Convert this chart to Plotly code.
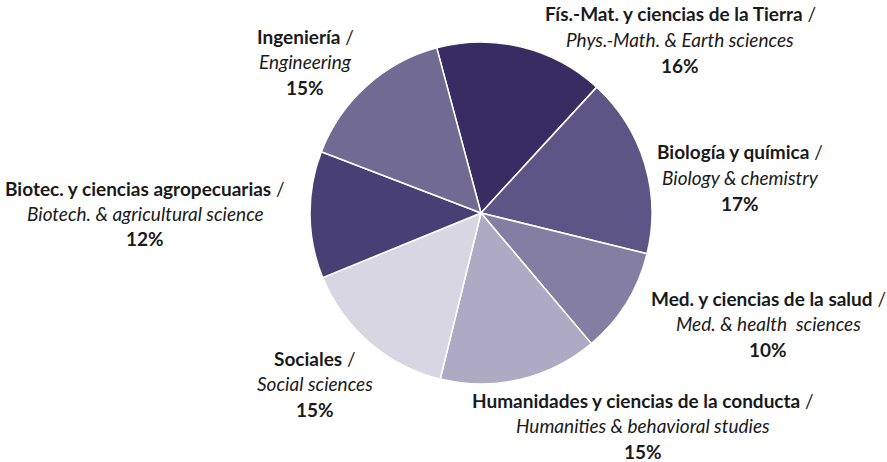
import plotly.graph_objects as go

# ===============================
# DATA
# ===============================
labels_es = [
    "Fís.-Mat. y ciencias de la Tierra",
    "Biología y química",
    "Med. y ciencias de la salud",
    "Humanidades y ciencias de la conducta",
    "Sociales",
    "Biotec. y ciencias agropecuarias",
    "Ingeniería",
]
labels_en = [
    "Phys.-Math. & Earth sciences",
    "Biology & chemistry",
    "Med. & health  sciences",
    "Humanities & behavioral studies",
    "Social sciences",
    "Biotech. & agricultural science",
    "Engineering",
]
shares = [16, 17, 10, 15, 15, 12, 15]

COLOURS = ["#372d63", "#5e5587", "#847ea3", "#afaac4", "#d9d6e3", "#483f74", "#716a93"]

# label anchor (pixel centre of the first line) for each slice
LABEL_POS = [
    (680, 14),
    (740, 152),
    (768, 298),
    (643, 400),
    (315, 358),
    (145, 188),
    (305, 36),
]

W, H = 887, 462
FONT = "Lato"
LINE_GAP = 25.5


def px_x(px):
    return px / W


def px_y(py):
    return 1 - py / H


fig = go.Figure(go.Pie(
    labels=labels_es,
    values=shares,
    sort=False,
    direction="clockwise",
    rotation=-15,
    marker=dict(colors=COLOURS, line=dict(color="white", width=1.5)),
    textinfo="none",
    hoverinfo="label+percent",
    showlegend=False,
    domain=dict(x=[px_x(310), px_x(652)], y=[px_y(384), px_y(42)]),
))

annotations = []
for es, en, v, (px, py) in zip(labels_es, labels_en, shares, LABEL_POS):
    lines = [
        f"<b>{es}</b> /",
        f"<i>{en}</i>",
        f"<b>{v}%</b>",
    ]
    for i, t in enumerate(lines):
        annotations.append(dict(
            x=px_x(px), y=px_y(py + i * LINE_GAP),
            xref="paper", yref="paper",
            xanchor="center", yanchor="middle",
            text=t, showarrow=False, borderpad=0,
            font=dict(family=FONT, size=19, color="#1a1a1a"),
        ))

fig.update_layout(
    width=W, height=H,
    margin=dict(l=0, r=0, t=0, b=0),
    paper_bgcolor="white",
    plot_bgcolor="white",
    annotations=annotations,
)

# drop the default page margin so the figure fills the window exactly
fig.write_html(
    "out.html",
    config={"displayModeBar": False},
    post_script="document.body.style.margin='0';",
)
